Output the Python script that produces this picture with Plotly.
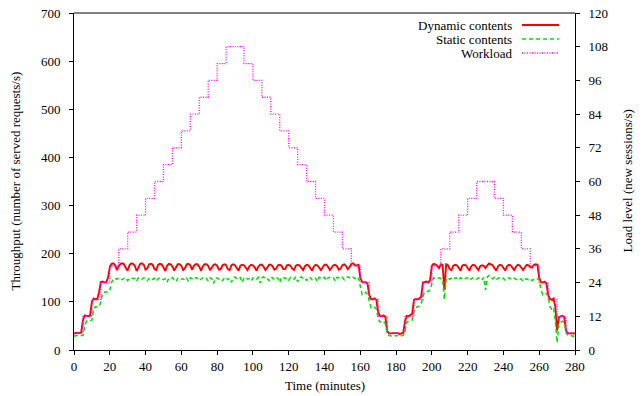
import plotly.graph_objects as go

# ---------------- data ----------------
minutes = list(range(0, 281))

dynamic_contents = [
    33, 36, 35, 35, 36, 62, 72, 71, 70, 72,
    100, 107, 105, 106, 120, 141, 142, 140, 141, 150,
    172, 179, 180, 176, 166, 174, 179, 180, 178, 170,
    165, 176, 180, 179, 175, 164, 173, 179, 180, 177,
    167, 170, 178, 179, 177, 168, 166, 177, 179, 178,
    172, 164, 175, 179, 178, 174, 165, 172, 178, 178,
    175, 166, 170, 178, 179, 176, 167, 175, 178, 178,
    173, 165, 174, 178, 178, 175, 166, 171, 177, 178,
    175, 167, 168, 176, 178, 176, 168, 166, 176, 178,
    176, 170, 165, 175, 177, 176, 171, 166, 174, 177,
    176, 172, 165, 173, 177, 177, 173, 166, 171, 177,
    177, 174, 167, 169, 176, 177, 175, 168, 168, 176,
    177, 175, 169, 166, 175, 177, 176, 170, 166, 174,
    177, 176, 171, 165, 173, 177, 176, 172, 166, 172,
    177, 177, 173, 166, 170, 176, 177, 174, 167, 169,
    176, 178, 175, 168, 172, 179, 180, 176, 175, 178,
    150, 142, 140, 141, 138, 115, 106, 105, 107, 104,
    78, 71, 70, 72, 69, 40, 35, 34, 35, 35,
    34, 35, 33, 35, 36, 60, 71, 70, 72, 75,
    104, 106, 105, 107, 110, 140, 141, 142, 140, 145,
    175, 179, 178, 175, 170, 178, 177, 125, 178, 176,
    168, 166, 175, 177, 176, 169, 165, 175, 177, 176,
    170, 165, 174, 177, 176, 171, 166, 174, 176, 175,
    170, 176, 180, 178, 176, 170, 165, 174, 177, 176,
    170, 165, 174, 177, 176, 171, 166, 173, 177, 176,
    172, 166, 172, 177, 176, 172, 171, 177, 178, 177,
    150, 141, 140, 142, 138, 115, 106, 104, 107, 90,
    40, 68, 70, 71, 68, 40, 35, 34, 35, 34,
    35,
]

static_contents = [
    28, 30, 30, 29, 30, 30, 50, 60, 60, 61,
    62, 85, 90, 89, 90, 100, 118, 120, 121, 120,
    125, 140, 148, 149, 147, 150, 148, 146, 149, 150,
    144, 149, 150, 148, 149, 143, 150, 149, 147, 150,
    148, 144, 149, 150, 147, 149, 143, 148, 150, 149,
    146, 148, 141, 149, 148, 150, 146, 142, 149, 150,
    147, 148, 145, 149, 142, 150, 148, 146, 150, 149,
    144, 147, 150, 148, 149, 143, 150, 148, 138, 149,
    150, 147, 148, 144, 149, 151, 146, 149, 141, 150,
    152, 148, 147, 150, 140, 149, 151, 147, 148, 143,
    150, 149, 147, 151, 139, 150, 152, 148, 149, 144,
    151, 150, 146, 150, 149, 140, 151, 152, 148, 150,
    145, 151, 150, 147, 152, 142, 150, 152, 149, 150,
    144, 151, 150, 146, 150, 149, 142, 151, 150, 148,
    151, 144, 150, 151, 149, 150, 143, 151, 150, 148,
    151, 146, 150, 152, 150, 148, 151, 149, 146, 150,
    130, 115, 118, 120, 116, 100, 88, 90, 89, 85,
    65, 58, 60, 59, 55, 35, 30, 29, 30, 31,
    29, 30, 28, 30, 31, 40, 58, 60, 61, 62,
    80, 88, 90, 91, 95, 112, 120, 121, 122, 125,
    140, 150, 149, 148, 150, 149, 147, 105, 148, 150,
    147, 149, 146, 150, 149, 145, 150, 148, 146, 149,
    150, 145, 148, 150, 149, 147, 150, 148, 145, 151,
    125, 152, 155, 150, 148, 151, 146, 149, 150, 147,
    149, 145, 148, 150, 148, 146, 149, 147, 145, 148,
    147, 143, 147, 148, 146, 148, 144, 147, 149, 148,
    145, 125, 115, 118, 117, 112, 90, 85, 88, 60,
    15, 55, 58, 60, 57, 38, 30, 29, 30, 28,
    30,
]

workload_start = list(range(0, 285, 5))
workload_level = [
    6, 12, 18, 24, 30, 36, 42, 48, 54, 60,
    66, 72, 78, 84, 90, 96, 102, 108, 108, 102,
    96, 90, 84, 78, 72, 66, 60, 54, 48, 42,
    36, 30, 24, 18, 12, 6, 6, 12, 18, 24,
    30, 36, 42, 48, 54, 60, 60, 54, 48, 42,
    36, 30, 24, 18, 12, 6, 6,
]

x_ticks = list(range(0, 281, 20))
y_ticks = list(range(0, 701, 100))
y2_ticks = list(range(0, 121, 12))

legend_names = ["Dynamic contents", "Static contents", "Workload"]

# ---------------- figure ----------------
FONT = "'Liberation Serif', 'Times New Roman', Times, serif"
W, H = 642, 396
# plot area in page pixels (page body margin removed below)
L, R, T, B = 74, 575, 13, 350

fig = go.Figure()
fig.add_trace(go.Scatter(x=minutes, y=dynamic_contents, mode="lines",
                         line=dict(color="#ff0000", width=1.9),
                         name=legend_names[0], showlegend=False))
fig.add_trace(go.Scatter(x=minutes, y=static_contents, mode="lines",
                         line=dict(color="#00e000", width=1.5, dash="4px,3px"),
                         name=legend_names[1], showlegend=False))
fig.add_trace(go.Scatter(x=workload_start, y=workload_level, mode="lines",
                         line=dict(color="#ff00ff", width=1.3, dash="1px,1.5px", shape="hv"),
                         name=legend_names[2], yaxis="y2", showlegend=False))

axis_common = dict(showline=True, linecolor="black", linewidth=1, mirror=False,
                   ticks="outside", ticklen=4, tickcolor="black", tickwidth=1,
                   showgrid=False, zeroline=False, automargin=False,
                   ticklabeloverflow="allow",
                   tickfont=dict(family=FONT, size=13, color="black"))

fig.update_layout(
    width=W, height=H,
    margin=dict(l=L, r=W - R, t=T, b=H - B, pad=0, autoexpand=False),
    paper_bgcolor="white", plot_bgcolor="white",
    font=dict(family=FONT, size=13, color="black"),
    showlegend=False,
    hovermode=False,
    xaxis=dict(range=[0, 280], tickvals=x_ticks, **axis_common),
    yaxis=dict(range=[0, 700], tickvals=y_ticks, ticklabelstandoff=6, **axis_common),
    yaxis2=dict(range=[0, 120], tickvals=y2_ticks, overlaying="y", side="right",
                ticklabelstandoff=6, **axis_common),
)

# top border
fig.add_shape(type="line", xref="paper", yref="paper", x0=0, x1=1, y0=1, y1=1,
              line=dict(color="black", width=1))


def px_x(p):
    return (p - L) / (R - L)


def px_y(p):
    return (B - p) / (B - T)


# axis titles
fig.add_annotation(text="Time (minutes)", xref="paper", yref="paper",
                   x=0.5, y=px_y(386), showarrow=False, xanchor="center", yanchor="middle",
                   font=dict(family=FONT, size=13))
fig.add_annotation(text="Throughput (number of served requests/s)", xref="paper", yref="paper",
                   x=px_x(15), y=0.5, showarrow=False, textangle=-90,
                   xanchor="center", yanchor="middle", font=dict(family=FONT, size=13))
fig.add_annotation(text="Load level (new sessions/s)", xref="paper", yref="paper",
                   x=px_x(627), y=0.5, showarrow=False, textangle=-90,
                   xanchor="center", yanchor="middle", font=dict(family=FONT, size=13))

# gnuplot-style legend
rows = [25, 39, 53]
styles = [dict(color="#ff0000", width=1.9),
          dict(color="#00e000", width=1.5, dash="4px,3px"),
          dict(color="#ff00ff", width=1.3, dash="1px,1.5px")]
for name, yy, st in zip(legend_names, rows, styles):
    fig.add_annotation(text=name, xref="paper", yref="paper", x=px_x(514), y=px_y(yy),
                       showarrow=False, xanchor="right", yanchor="middle",
                       font=dict(family=FONT, size=13))
    fig.add_shape(type="line", xref="paper", yref="paper",
                  x0=px_x(522), x1=px_x(559), y0=px_y(yy), y1=px_y(yy), line=st)

fig.write_html("out.html", config={"displayModeBar": False},
               post_script="document.body.style.margin='0';")
